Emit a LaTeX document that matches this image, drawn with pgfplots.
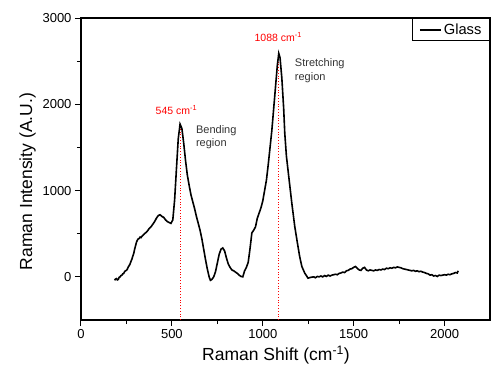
\documentclass[border=0pt]{standalone}
\usepackage{fontspec}
\setmainfont{Liberation Sans}
\usepackage{pgfplots}
\pgfplotsset{compat=1.18}
\begin{document}
\begin{tikzpicture}
\begin{axis}[
  scale only axis, width=409pt, height=302pt,
  xmin=0, xmax=2250, ymin=-500, ymax=3000,
  xtick={0,500,1000,1500,2000}, ytick={0,1000,2000,3000},
  minor x tick num=1, minor y tick num=1,
  tick align=outside, tick pos=left,
  major tick length=6pt, minor tick length=4pt,
  axis line style={line width=1.2pt},
  every tick/.style={line width=1pt, black},
  /pgf/number format/assume math mode=true,
  /pgf/number format/1000 sep={},
  tick label style={font=\fontsize{13}{15}\selectfont},
  xlabel={Raman Shift (cm\textsuperscript{-1})},
  ylabel={Raman Intensity (A.U.)},
  label style={font=\fontsize{17.5}{20}\selectfont},
  xlabel style={at={(ticklabel cs:0.4768)}},
  ylabel style={at={(ticklabel cs:0.4586)}},
  legend style={at={(1,1)}, anchor=north east, font=\fontsize{14.7}{16}\selectfont,
    draw=black, line width=1.2pt, inner xsep=6pt, inner ysep=3pt},
  legend cell align=left,
  legend image code/.code={\draw[#1, line width=2pt] (0pt,0pt) -- (21pt,0pt);},
]
\coordinate (LL) at (rel axis cs:0,0);
\coordinate (UR) at (rel axis cs:1,1);
\addplot[red, dotted, line width=0.8pt, forget plot] coordinates {(545,-500) (545,1770)};
\addplot[red, dotted, line width=0.8pt, forget plot] coordinates {(1088,-500) (1088,2590)};
\addplot[black, line width=1.6pt] coordinates {
(185,-40) (190,-25) (195,-20) (200,-35) (205,-30) (210,-5) (215,0) (220,15) (225,20) (230,35) (235,40) (240,60) (245,70) (250,75) (255,90) (260,115) (265,130)
(270,150) (275,180) (280,205) (285,240) (290,270) (295,320) (300,360) (305,400) (310,425) (315,440) (320,445) (325,460) (330,455) (335,470) (340,480) (345,490)
(355,510) (365,530) (375,560) (385,580) (395,610) (405,640) (415,680) (425,710)
(435,720) (445,700) (455,690) (465,660) (475,640) (485,630) (495,620) (505,660)
(515,890) (525,1250) (535,1600) (545,1770) (555,1720) (565,1550) (575,1350)
(585,1180) (595,1060) (605,950) (615,870) (625,790) (635,700) (645,620) (655,540)
(665,440) (675,320) (685,200) (695,90) (705,0) (712,-40) (720,-30) (730,0) (740,60)
(750,160) (760,260) (770,320) (780,335) (790,300) (800,220) (810,150) (820,110)
(830,80) (840,70) (850,55) (860,40) (870,20) (880,5) (890,0) (900,70) (910,110)
(920,170) (930,330) (940,510) (950,540) (960,580) (970,680) (980,740) (990,800)
(1000,880) (1010,1000) (1020,1120) (1030,1300) (1040,1500) (1050,1700) (1060,1950)
(1070,2200) (1080,2450) (1088,2590) (1095,2540) (1105,2300) (1115,1950) (1121,1665)
(1130,1400) (1145,1124) (1160,850) (1176,583) (1190,400) (1203,235) (1215,120)
(1231,43) (1249,-15) (1265,-5) (1280,0) (1290,-10) (1300,5) (1310,0) (1320,10) (1330,0) (1340,15) (1350,5) (1360,20)
(1370,10) (1380,20) (1390,25) (1400,30) (1410,25) (1420,40) (1430,45) (1440,55) (1450,50) (1460,70) (1470,75) (1480,90) (1490,95) (1500,110) (1510,120)
(1520,100) (1530,80) (1540,75) (1550,100) (1560,110) (1570,80) (1580,70) (1590,80) (1600,75)
(1610,70) (1620,80) (1630,75) (1640,85) (1650,80) (1660,90) (1670,85) (1680,100) (1690,95) (1700,105) (1710,100) (1720,110) (1730,105) (1740,115) (1750,110) (1760,105)
(1770,95) (1780,90) (1790,85) (1800,80) (1810,75) (1820,70) (1830,75) (1840,65) (1850,70) (1860,60) (1870,65) (1880,55) (1890,50) (1900,40) (1910,35) (1920,20)
(1930,25) (1940,10) (1950,15) (1960,5) (1970,20) (1980,15) (1990,20) (2000,25) (2010,20) (2020,30) (2030,25) (2040,35) (2050,40) (2060,50) (2070,45) (2075,70)
};
\addlegendentry{Glass}
\node[text=red, font=\fontsize{10.5}{12}\selectfont] at (axis cs:525,1935) {545 cm\textsuperscript{-1}};
\node[text=red, font=\fontsize{10.5}{12}\selectfont] at (axis cs:1085,2781) {1088 cm\textsuperscript{-1}};
\node[anchor=west, align=left, text=black!80, font=\fontsize{11}{13.3}\selectfont, inner sep=0pt] at (axis cs:632,1622) {Bending\\region};
\node[anchor=west, align=left, text=black!80, font=\fontsize{11}{13.3}\selectfont, inner sep=0pt] at (axis cs:1176,2391) {Stretching\\region};
\end{axis}
\pgfresetboundingbox
\path ([shift={(-81pt,-45pt)}]LL) rectangle ([shift={(1pt,18pt)}]UR);
\end{tikzpicture}
\end{document}
